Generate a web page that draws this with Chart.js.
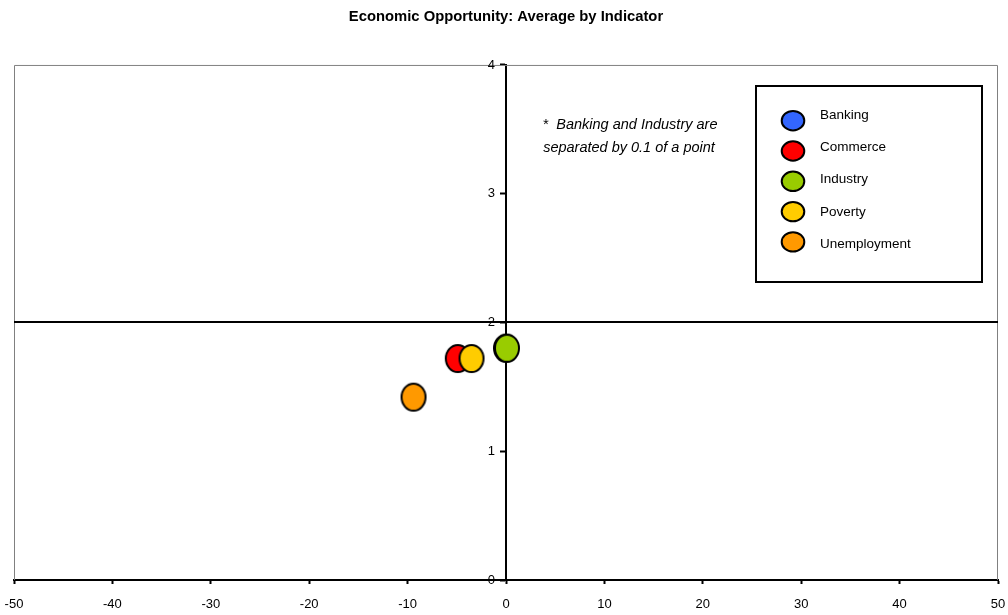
<!DOCTYPE html>
<html>
<head>
<meta charset="utf-8">
<script src="https://cdn.jsdelivr.net/npm/chart.js@4.4.1/dist/chart.umd.min.js"></script>
<style>
  html, body { margin: 0; padding: 0; background: #fff; }
  #wrap { width: 1008px; height: 615px; position: relative; }
</style>
</head>
<body>
<div id="wrap"><canvas id="scatterChart"></canvas></div>
<script>
// Economic Opportunity quadrant chart (scatter, axes crossing at x = 0)

const indicators = ['Banking', 'Commerce', 'Industry', 'Poverty', 'Unemployment'];
const xValues = [0.0, -4.9, 0.1, -3.5, -9.4];
const yValues = [1.8, 1.72, 1.8, 1.72, 1.42];
const fillColors = ['#3366FF', '#FF0000', '#99CC00', '#FFCC00', '#FF9900'];
const xTicks = [-50, -40, -30, -20, -10, 0, 10, 20, 30, 40, 50];
const yTicks = [0, 1, 2, 3, 4];
const noteLines = ['*  Banking and Industry are', 'separated by 0.1 of a point'];
const crossY = 2;

const FONT = '"Liberation Sans", Arial, sans-serif';

// Ellipse markers (slightly taller than wide, like the original)
function ellipseMarker(color, rx, ry) {
  const c = document.createElement('canvas');
  c.width = Math.ceil(rx * 2 + 4);
  c.height = Math.ceil(ry * 2 + 4);
  const g = c.getContext('2d');
  g.beginPath();
  g.ellipse(c.width / 2, c.height / 2, rx, ry, 0, 0, Math.PI * 2);
  g.fillStyle = color;
  g.fill();
  g.lineWidth = 2;
  g.strokeStyle = '#000';
  g.stroke();
  return c;
}

const datasets = indicators.map((name, i) => ({
  label: name,
  data: [{ x: xValues[i], y: yValues[i] }],
  backgroundColor: fillColors[i],
  borderColor: '#000',
  pointStyle: ellipseMarker(fillColors[i], 12, 13.5),
  // later indicators sit on top (Industry over Banking, Poverty over Commerce)
  order: indicators.length - i
}));

// gray frame, crossing line at y = 2, y labels left of the centre axis, note and boxed legend
const quadrantDecor = {
  id: 'quadrantDecor',
  beforeDatasetsDraw(chart) {
    const { ctx, chartArea: a, scales } = chart;
    ctx.save();
    ctx.strokeStyle = '#808080';
    ctx.lineWidth = 1;
    ctx.beginPath();
    ctx.moveTo(a.left + 0.5, a.bottom);
    ctx.lineTo(a.left + 0.5, a.top + 0.5);
    ctx.lineTo(a.right - 0.5, a.top + 0.5);
    ctx.lineTo(a.right - 0.5, a.bottom);
    ctx.stroke();

    const yy = Math.round(scales.y.getPixelForValue(crossY));
    ctx.strokeStyle = '#000';
    ctx.lineWidth = 2;
    ctx.beginPath();
    ctx.moveTo(a.left, yy);
    ctx.lineTo(a.right, yy);
    ctx.stroke();

    // y tick labels sit just left of the tick marks on the x = 0 axis
    const axisX = scales.x.getPixelForValue(0);
    ctx.fillStyle = '#000';
    ctx.font = '13px ' + FONT;
    ctx.textAlign = 'right';
    ctx.textBaseline = 'middle';
    scales.y.ticks.forEach(t => {
      ctx.fillText(String(t.value), axisX - 11, scales.y.getPixelForValue(t.value));
    });

    ctx.font = 'italic 14.5px ' + FONT;
    ctx.textAlign = 'center';
    ctx.fillText(noteLines[0], 630, 125);
    ctx.fillText(noteLines[1], 629, 148);
    ctx.restore();
  },
  afterDraw(chart) {
    const { ctx } = chart;
    const box = { x: 756, y: 86, w: 226, h: 196 };
    ctx.save();
    ctx.fillStyle = '#fff';
    ctx.fillRect(box.x, box.y, box.w, box.h);
    ctx.strokeStyle = '#000';
    ctx.lineWidth = 2;
    ctx.strokeRect(box.x, box.y, box.w, box.h);
    ctx.font = '13.5px ' + FONT;
    ctx.textAlign = 'left';
    ctx.textBaseline = 'middle';
    chart.data.datasets.forEach((ds, i) => {
      const my = 120.7 + i * 30.3;
      ctx.beginPath();
      ctx.ellipse(793, my, 11.3, 9.7, 0, 0, Math.PI * 2);
      ctx.fillStyle = ds.backgroundColor;
      ctx.fill();
      ctx.lineWidth = 2;
      ctx.strokeStyle = '#000';
      ctx.stroke();
      ctx.fillStyle = '#000';
      ctx.fillText(ds.label, 820, 115 + i * 32.3);
    });
    ctx.restore();
  }
};

const ctx = document.getElementById('scatterChart').getContext('2d');
new Chart(ctx, {
  type: 'scatter',
  data: { datasets },
  options: {
    responsive: true,
    maintainAspectRatio: false,
    animation: false,
    events: [],
    // x labels use a tall line box to sit low; negative bottom padding keeps the plot bottom at 580
    layout: { padding: { left: 14, right: 10, top: 0, bottom: -9 } },
    scales: {
      x: {
        type: 'linear',
        min: xTicks[0],
        max: xTicks[xTicks.length - 1],
        afterBuildTicks: (s) => { s.ticks = xTicks.map(v => ({ value: v })); },
        border: { color: '#000', width: 2 },
        grid: { drawOnChartArea: false, drawTicks: true, tickLength: 4, tickColor: '#000', tickWidth: 2 },
        ticks: { color: '#000', font: { family: FONT, size: 13, lineHeight: 36 / 13 }, padding: 2, maxRotation: 0, autoSkip: false }
      },
      y: {
        type: 'linear',
        position: { x: 0 },
        min: yTicks[0],
        max: yTicks[yTicks.length - 1],
        afterBuildTicks: (s) => { s.ticks = yTicks.map(v => ({ value: v })); },
        border: { color: '#000', width: 2 },
        grid: { drawOnChartArea: false, drawTicks: true, tickLength: 5, tickColor: '#000', tickWidth: 2 },
        ticks: { display: false }
      }
    },
    plugins: {
      legend: { display: false },
      tooltip: { enabled: false },
      title: {
        display: true,
        text: 'Economic Opportunity: Average by Indicator',
        color: '#000',
        font: { family: FONT, size: 14.8, weight: 'bold', lineHeight: 1.2 },
        padding: { top: 8, bottom: 39.2 }
      }
    }
  },
  plugins: [quadrantDecor]
});
</script>
</body>
</html>
